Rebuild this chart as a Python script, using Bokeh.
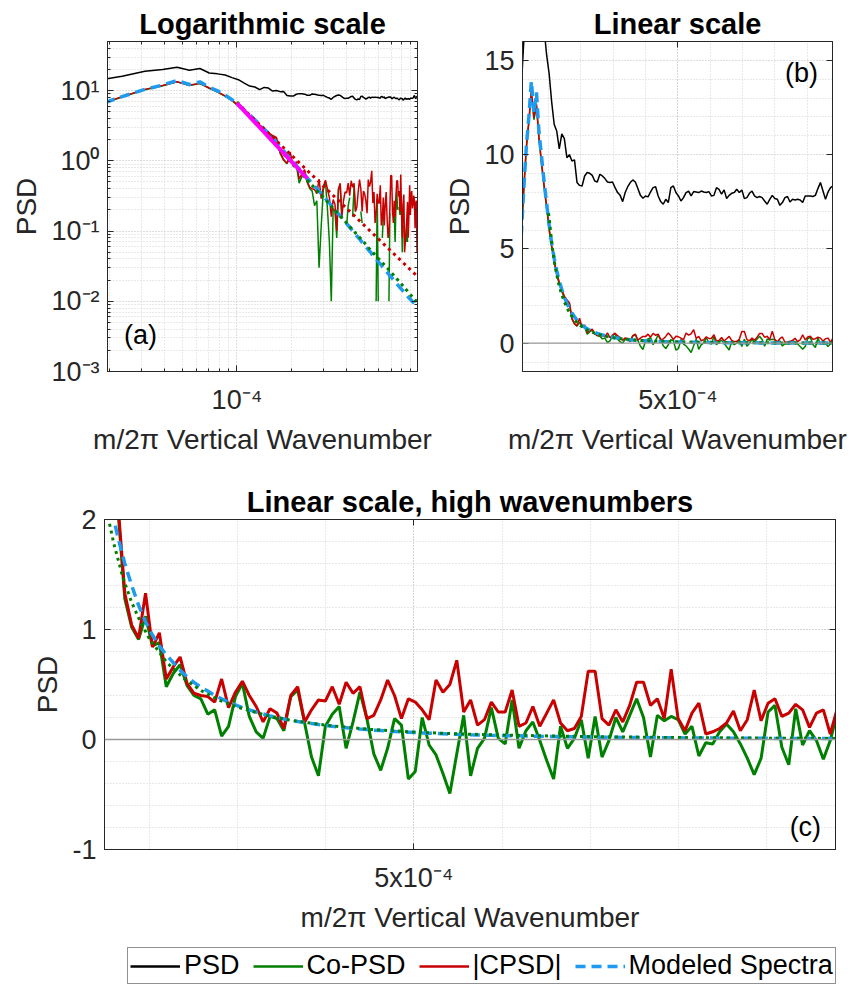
import numpy as np
from bokeh.plotting import figure
from bokeh.models import (FixedTicker, LinearAxis, LogAxis, Span, Label, Legend,
                          LegendItem, CustomJSTickFormatter, Range1d)
from bokeh.layouts import column, row
from bokeh.embed import file_html
from bokeh.resources import INLINE

# ---------------- data ----------------
k_start = 1.56e-5
k_step = 7.84e-6
wavenumber = k_start + k_step * np.arange(124)

psd = [13.5, 16.0, 18.9, 20.0, 21.5, 19.5, 20.6, 17.8, 17.3, 16.7,
       15.3, 14.3, 12.8, 11.6, 11.25, 10.3, 11.1, 10.85, 9.84, 10.0,
       9.66, 9.72, 8.52, 8.37, 8.34, 8.87, 9.05, 9.01, 8.9, 8.6,
       8.55, 8.96, 8.87, 8.73, 8.55, 8.52, 8.55, 8.25, 7.99, 7.84,
       7.51, 7.99, 8.3, 8.52, 8.66, 8.55, 8.2, 7.84, 7.69, 7.81,
       7.76, 8.02, 8.25, 8.30, 7.81, 7.51, 7.37, 7.63, 7.46, 8.25,
       8.34, 7.99, 7.81, 7.54, 7.72, 7.99, 8.06, 7.81, 8.04, 8.02,
       7.99, 8.07, 8.02, 7.99, 8.04, 7.81, 7.84, 8.25, 8.16, 7.90,
       8.13, 7.67, 7.84, 7.95, 7.99, 8.16, 7.99, 8.13, 7.67, 7.72,
       7.95, 8.07, 7.81, 7.72, 7.78, 7.72, 7.54, 7.37, 7.63, 7.84,
       7.67, 7.63, 7.31, 7.46, 7.72, 7.78, 7.49, 7.63, 7.60, 7.63,
       7.60, 7.46, 7.81, 7.81, 7.81, 7.78, 7.84, 8.2, 8.52, 8.07,
       7.63, 8.02, 8.25, 8.35]

co_psd = [5.6, 8.1, 10.3, 11.7, 13.3, 11.85, 12.6, 10.8, 9.5, 8.3,
          7.2, 6.0, 5.1, 4.3, 3.6, 3.15, 2.75, 2.4, 2.2, 2.1,
          1.28, 1.02, 0.91, 1.12, 0.85, 0.88, 0.48, 0.60, 0.68, 0.49,
          0.40, 0.37, 0.23, 0.27, 0.03, 0.12, 0.39, 0.51, 0.21, 0.07,
          0.01, 0.21, 0.19, 0.08, 0.39, 0.45, 0.15, -0.16, -0.33, 0.12,
          0.23, 0.30, -0.08, 0.16, 0.43, 0.19, -0.13, -0.28, -0.08, 0.19,
          0.13, -0.36, -0.29, 0.20, -0.05, -0.14, -0.31, -0.49, -0.13, 0.22,
          -0.33, -0.08, 0.01, 0.29, 0.01, -0.04, 0.36, -0.08, 0.08, 0.16,
          -0.01, -0.19, -0.36, 0.12, -0.08, 0.01, 0.18, -0.17, 0.21, -0.16,
          -0.01, 0.20, 0.07, 0.22, 0.37, 0.20, -0.16, 0.22, 0.17, 0.21,
          0.18, 0.05, 0.12, -0.15, -0.03, -0.04, 0.07, 0.14, 0.07, -0.04,
          -0.17, -0.32, -0.17, 0.25, 0.31, -0.07, -0.23, 0.28, -0.05, 0.08,
          -0.01, -0.18, -0.01, 0.24]

cpsd_abs = [5.7, 8.2, 10.4, 11.8, 13.4, 11.95, 12.7, 10.9, 9.6, 8.4,
            7.3, 6.1, 5.2, 4.4, 3.7, 3.25, 2.85, 2.5, 2.3, 2.15,
            1.33, 1.04, 0.92, 1.33, 0.84, 0.97, 0.55, 0.66, 0.75, 0.51,
            0.42, 0.40, 0.39, 0.34, 0.55, 0.29, 0.43, 0.53, 0.40, 0.30,
            0.16, 0.28, 0.24, 0.10, 0.40, 0.48, 0.16, 0.27, 0.36, 0.35,
            0.48, 0.32, 0.52, 0.42, 0.48, 0.19, 0.22, 0.36, 0.54, 0.40,
            0.19, 0.37, 0.34, 0.27, 0.18, 0.54, 0.43, 0.50, 0.72, 0.25,
            0.36, 0.13, 0.18, 0.34, 0.25, 0.25, 0.45, 0.12, 0.15, 0.30,
            0.12, 0.24, 0.36, 0.15, 0.08, 0.10, 0.21, 0.62, 0.62, 0.19,
            0.13, 0.27, 0.16, 0.31, 0.52, 0.52, 0.31, 0.37, 0.19, 0.64,
            0.19, 0.08, 0.24, 0.33, 0.05, 0.07, 0.10, 0.15, 0.26, 0.08,
            0.18, 0.45, 0.17, 0.33, 0.37, 0.21, 0.24, 0.32, 0.27, 0.11,
            0.24, 0.27, 0.05, 0.28]

modeled = [5.7, 8.2, 10.4, 12.0, 13.9, 12.2, 13.3, 11.2, 9.9, 8.6,
           7.4, 6.3, 5.3, 4.5, 3.85, 3.3, 2.85, 2.45, 2.12, 1.84,
           1.6, 1.4, 1.22, 1.07, 0.95, 0.85, 0.77, 0.70, 0.63, 0.57,
           0.52, 0.475, 0.44, 0.40, 0.37, 0.34, 0.315, 0.29, 0.27, 0.25,
           0.232, 0.215, 0.20, 0.187, 0.175, 0.164, 0.154, 0.145, 0.136, 0.128,
           0.120, 0.113, 0.107, 0.101, 0.095, 0.090, 0.085, 0.081, 0.077, 0.073,
           0.069, 0.066, 0.063, 0.060, 0.057, 0.054, 0.052, 0.050, 0.047, 0.045,
           0.043, 0.042, 0.040, 0.038, 0.037, 0.035, 0.034, 0.033, 0.031, 0.030,
           0.029, 0.028, 0.027, 0.026, 0.025, 0.024, 0.023, 0.0225, 0.0218, 0.021,
           0.0203, 0.0197, 0.019, 0.0184, 0.0178, 0.0172, 0.0167, 0.0162, 0.0157, 0.0152,
           0.0148, 0.0144, 0.014, 0.0136, 0.0132, 0.0128, 0.0125, 0.0121, 0.0118, 0.0115,
           0.0112, 0.0109, 0.0107, 0.0104, 0.0102, 0.0099, 0.0097, 0.0095, 0.0093, 0.0091,
           0.0089, 0.0087, 0.0085, 0.0083]

fit_co_k = [1.0e-4, 1.1e-4, 1.2e-4, 1.3e-4, 1.4e-4, 1.5e-4, 1.6e-4, 1.7e-4, 1.8e-4,
            1.9e-4, 2.0e-4, 2.2e-4, 2.4e-4, 2.6e-4, 2.8e-4, 3.0e-4, 3.3e-4, 3.6e-4,
            4.0e-4, 4.5e-4, 5.0e-4, 5.5e-4, 6.0e-4, 7.0e-4, 8.0e-4, 9.0e-4, 9.78e-4]
fit_co_v = [6.9, 5.3, 4.1, 3.25, 2.62, 2.15, 1.78, 1.48, 1.25,
            1.07, 0.92, 0.70, 0.55, 0.44, 0.355, 0.295, 0.225, 0.175,
            0.13, 0.092, 0.068, 0.051, 0.040, 0.026, 0.0175, 0.0122, 0.0096]
fit_cpsd_k = [1.0e-4, 9.78e-4]
fit_cpsd_v = [6.7, 0.0225]
fit_slope_k = [1.0e-4, 2.43e-4]
fit_slope_v = [6.65, 0.56]

titles = ["Logarithmic scale", "Linear scale", "Linear scale, high wavenumbers"]
x_label = "m/2\u03c0 Vertical Wavenumber"
y_label = "PSD"
legend_labels = ["PSD", "Co-PSD", "|CPSD|", "Modeled Spectra"]

# ---------------- style ----------------
FONT = "Liberation Sans"
AX = "#262626"
GREEN = "#008000"
RED = "#C80000"
BLUE = "#1E9BF0"
MAG = "#FF00FF"
GRID_MAJ = "#bcbcbc"
GRID_MIN = "#d2d2d2"


def empty_fmt():
    return CustomJSTickFormatter(code="return ''")


def make_fig(title, xt, yt, xr, yr, fw, fh, bl, br, bt, bb):
    p = figure(x_axis_type=xt, y_axis_type=yt, x_range=Range1d(*xr), y_range=Range1d(*yr),
               frame_width=fw, frame_height=fh, min_border_left=bl, min_border_right=br,
               min_border_top=bt, min_border_bottom=bb, output_backend="svg",
               toolbar_location=None, title=title)
    p.title.text_font = FONT
    p.title.text_font_size = "29px"
    p.title.text_font_style = "bold"
    p.title.align = "center"
    p.title.text_color = "black"
    p.title.standoff = 4
    p.outline_line_color = AX
    p.outline_line_width = 1
    p.outline_line_alpha = 1
    p.background_fill_color = "white"
    p.border_fill_color = "white"
    return p


def style_axis(ax, minor=True):
    ax.axis_line_color = AX
    ax.major_tick_line_color = AX
    ax.minor_tick_line_color = AX if minor else None
    ax.major_tick_in = 6
    ax.major_tick_out = 0
    ax.minor_tick_in = 3
    ax.minor_tick_out = 0
    ax.major_label_text_font = FONT
    ax.major_label_text_font_size = "27px"
    ax.major_label_text_color = AX
    ax.axis_label_text_font = FONT
    ax.axis_label_text_font_size = "28px"
    ax.axis_label_text_font_style = "normal"
    ax.axis_label_text_color = AX


def setup(p, x_ticker, y_ticker, x_over, y_over, log_x, log_y, minor):
    bx = p.below[0]
    ly = p.left[0]
    bx.ticker = x_ticker
    ly.ticker = y_ticker
    bx.major_label_overrides = x_over
    ly.major_label_overrides = y_over
    bx.axis_label = x_label
    ly.axis_label = y_label
    style_axis(bx, minor)
    style_axis(ly, minor)
    bx.major_label_standoff = 13
    ly.major_label_standoff = 8
    bx.axis_label_standoff = 6
    ly.axis_label_standoff = 6
    p.xgrid.ticker = x_ticker
    p.ygrid.ticker = y_ticker
    for g in (p.xgrid[0], p.ygrid[0]):
        g.grid_line_color = GRID_MAJ
        g.grid_line_dash = "1 2"
        g.grid_line_width = 1
        g.minor_grid_line_color = GRID_MIN
        g.minor_grid_line_dash = "1 2"
        g.minor_grid_line_width = 1
    top = (LogAxis if log_x else LinearAxis)(ticker=x_ticker, formatter=empty_fmt())
    right = (LogAxis if log_y else LinearAxis)(ticker=y_ticker, formatter=empty_fmt())
    for ax in (top, right):
        style_axis(ax, minor)
        ax.major_label_text_font_size = "1px"
        ax.major_label_standoff = 0
    p.add_layout(top, "above")
    p.add_layout(right, "right")


# ---------------- (a) log-log ----------------
pa = make_fig(titles[0], "log", "log", (1.95e-5, 9.78e-4), (1e-3, 50), 310, 330, 107, 21, 41, 99)
xa_minor = [m * 1e-5 for m in range(2, 10)] + [m * 1e-4 for m in range(2, 10)]
ya_minor = [m * 10.0 ** e for e in range(-3, 2) for m in range(2, 10) if m * 10.0 ** e <= 50]
xt_a = FixedTicker(ticks=[1e-4], minor_ticks=xa_minor)
yt_a = FixedTicker(ticks=[0.001, 0.01, 0.1, 1, 10], minor_ticks=ya_minor)
setup(pa, xt_a, yt_a, {0.0001: "10\u207b\u2074"},
      {0.001: "10\u207b\u00b3", 0.01: "10\u207b\u00b2", 0.1: "10\u207b\u00b9", 1: "10\u2070", 10: "10\u00b9"},
      True, True, True)

co_psd_log = [v if v > 0 else np.nan for v in co_psd]
pa.line(wavenumber, psd, line_color="black", line_width=1.5)
pa.line(wavenumber, co_psd_log, line_color=GREEN, line_width=1.5)
pa.line(wavenumber, cpsd_abs, line_color=RED, line_width=1.5)
pa.line(wavenumber, modeled, line_color=BLUE, line_width=3.5, line_dash="10 6")
pa.line(fit_co_k, fit_co_v, line_color=GREEN, line_width=3, line_dash="3 4")
pa.line(fit_cpsd_k, fit_cpsd_v, line_color=RED, line_width=3, line_dash="3 4")
pa.line(fit_slope_k, fit_slope_v, line_color=MAG, line_width=4)
pa.add_layout(Label(x=2.4e-5, y=3.3e-3, text="(a)", text_font=FONT, text_font_size="27px",
                    text_baseline="middle", text_align="left", text_color="black"))

# ---------------- (b) linear ----------------
pb = make_fig(titles[1], "linear", "linear", (1.95e-5, 9.78e-4), (-1.5, 16), 310, 330, 84, 32, 41, 99)
xt_b = FixedTicker(ticks=[5e-4], minor_ticks=[m * 1e-4 for m in range(1, 10)])
yt_b = FixedTicker(ticks=[0, 5, 10, 15], minor_ticks=[v for v in range(-1, 17) if v % 5 != 0])
setup(pb, xt_b, yt_b, {0.0005: "5x10\u207b\u2074"}, {0: "0", 5: "5", 10: "10", 15: "15"},
      False, False, False)
pb.add_layout(Span(location=0, dimension="width", line_color="#9a9a9a", line_width=1.3))
pb.line(wavenumber, psd, line_color="black", line_width=1.5)
pb.line(wavenumber, co_psd, line_color=GREEN, line_width=1.5)
pb.line(wavenumber, cpsd_abs, line_color=RED, line_width=1.5)
pb.line(wavenumber, modeled, line_color=BLUE, line_width=3.5, line_dash="10 6")
pb.line(fit_co_k, fit_co_v, line_color=GREEN, line_width=3, line_dash="3 4")
pb.add_layout(Label(x=8.31e-4, y=14.34, text="(b)", text_font=FONT, text_font_size="27px",
                    text_baseline="middle", text_align="left", text_color="black"))

# ---------------- (c) linear, high wavenumbers ----------------
pc = make_fig(titles[2], "linear", "linear", (1.494e-4, 9.78e-4), (-1, 2), 731, 330, 104, 29, 49, 96)
xt_c = FixedTicker(ticks=[5e-4], minor_ticks=[m * 1e-4 for m in range(2, 10)])
yt_c = FixedTicker(ticks=[-1, 0, 1, 2], minor_ticks=[round(-1 + 0.2 * i, 1) for i in range(16)])
setup(pc, xt_c, yt_c, {0.0005: "5x10\u207b\u2074"}, {-1: "-1", 0: "0", 1: "1", 2: "2"},
      False, False, False)
pc.add_layout(Span(location=0, dimension="width", line_color="#9a9a9a", line_width=1.3))
pc.line(wavenumber, co_psd, line_color=GREEN, line_width=3)
pc.line(wavenumber, cpsd_abs, line_color=RED, line_width=3)
pc.line(wavenumber, modeled, line_color=BLUE, line_width=3.5, line_dash="10 6")
pc.line(fit_co_k, fit_co_v, line_color=GREEN, line_width=3, line_dash="3 4")
pc.add_layout(Label(x=9.26e-4, y=-0.795, text="(c)", text_font=FONT, text_font_size="27px",
                    text_baseline="middle", text_align="left", text_color="black"))

# ---------------- legend strip ----------------
pl = figure(frame_width=864, frame_height=39, min_border_left=0, min_border_right=0,
            min_border_top=0, min_border_bottom=0, x_range=Range1d(0, 1),
            y_range=Range1d(1000, 1001), x_axis_location=None, y_axis_location=None,
            output_backend="svg", toolbar_location=None)
pl.outline_line_color = None
pl.grid.visible = False
pl.background_fill_color = "white"
pl.border_fill_color = "white"
rk = pl.line(wavenumber, psd, line_color="black", line_width=2.5)
rg = pl.line(wavenumber, co_psd, line_color=GREEN, line_width=2.5)
rr = pl.line(wavenumber, cpsd_abs, line_color=RED, line_width=2.5)
rb = pl.line(wavenumber, modeled, line_color=BLUE, line_width=3.5, line_dash="10 6")
legend = Legend(items=[LegendItem(label=legend_labels[0], renderers=[rk]),
                       LegendItem(label=legend_labels[1], renderers=[rg]),
                       LegendItem(label=legend_labels[2], renderers=[rr]),
                       LegendItem(label=legend_labels[3], renderers=[rb])],
                orientation="horizontal", location=(127, 0),
                label_text_font=FONT, label_text_font_size="27px", label_text_color="black",
                glyph_width=50, glyph_height=24, label_standoff=4, spacing=13, padding=2,
                margin=0, border_line_color=AX, border_line_width=1,
                background_fill_color="white", background_fill_alpha=1)
pl.add_layout(legend, "center")

layout = column(row(pa, pb), pc, pl)
open("out.html", "w").write(file_html(layout, INLINE))
